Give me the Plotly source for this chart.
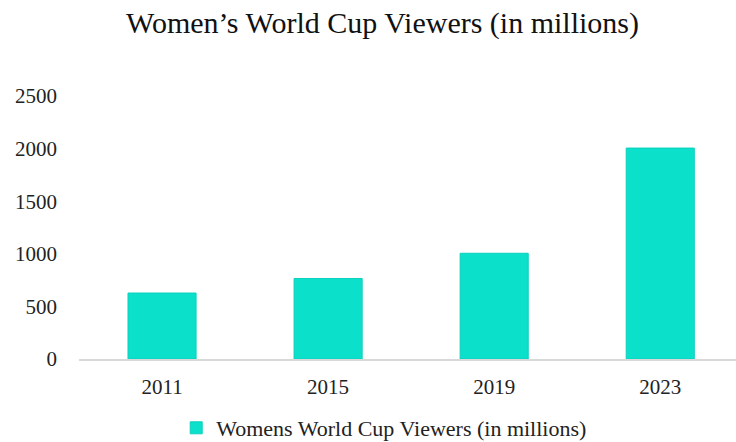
import plotly.graph_objects as go

years = ["2011", "2015", "2019", "2023"]
viewers = [627, 765, 1005, 2005]
series_name = "Womens World Cup Viewers (in millions)"
title_text = "Women’s World Cup Viewers (in millions)"
y_ticks = [0, 500, 1000, 1500, 2000, 2500]

FONT = "Liberation Serif"
W, H = 736, 442
L, R, T, B = 78.6, 0, 95.5, 82.5

fig = go.Figure()
fig.add_trace(go.Bar(
    x=years, y=viewers, name=series_name,
    marker=dict(color="#0BE0CB", line=dict(color="#0AD0BD", width=1)),
    width=0.41, showlegend=True,
))

fig.update_layout(
    width=W, height=H,
    margin=dict(l=L, r=R, t=T, b=B, pad=0, autoexpand=False),
    paper_bgcolor="white", plot_bgcolor="white",
    font=dict(family=FONT, color="#222222"),
    title=dict(text=title_text, x=382.5 / W, xanchor="center", xref="container",
               y=1 - 22 / H, yanchor="middle", yref="container",
               font=dict(family=FONT, size=30, color="#111111")),
    showlegend=True,
    legend=dict(orientation="h", x=(384 - L) / (W - L), xanchor="center", xref="paper",
                y=1 - 428 / H, yanchor="middle", yref="container",
                font=dict(family=FONT, size=22, color="#222222"),
                itemwidth=30, traceorder="normal"),
    bargap=0.59,
)

fig.update_xaxes(
    type="category", range=[-0.5, 3.5 - (743.3 - W) / 166.2],
    showline=True, linecolor="#D9D9D9", linewidth=1.5,
    showgrid=False, ticks="", ticklabelstandoff=8,
    tickfont=dict(family=FONT, size=21, color="#222222"),
    fixedrange=True,
)
fig.update_yaxes(
    range=[0, 2500], tickvals=y_ticks, ticktext=[str(v) for v in y_ticks],
    showgrid=False, zeroline=False, showline=False, ticks="",
    ticklabelstandoff=21,
    tickfont=dict(family=FONT, size=21, color="#222222"),
    fixedrange=True,
)

fig.write_html("out.html")
